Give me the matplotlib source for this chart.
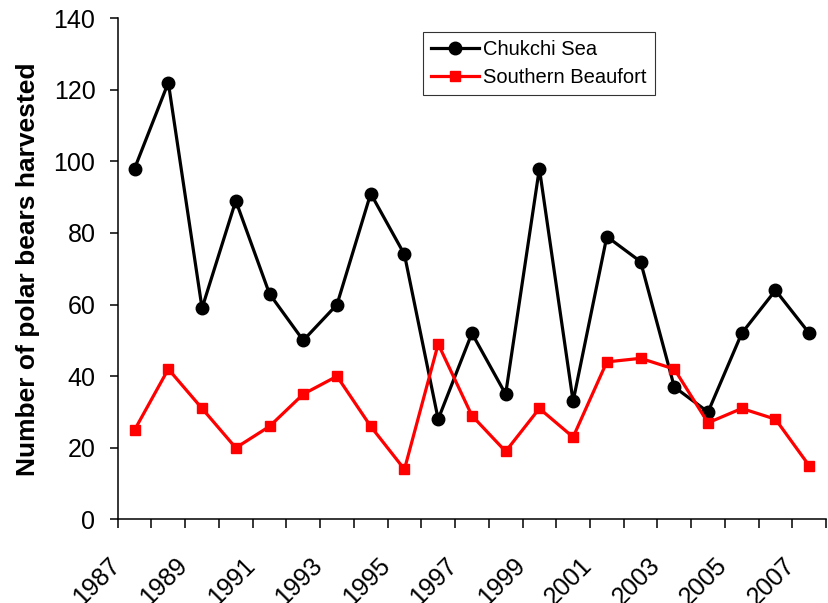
import numpy as np
import matplotlib.pyplot as plt
from matplotlib.ticker import FixedLocator, NullLocator
from matplotlib.transforms import ScaledTranslation

plt.rcParams['font.family'] = ['Liberation Sans', 'DejaVu Sans']

years = np.arange(1987, 2008)
chukchi = [98, 122, 59, 89, 63, 50, 60, 91, 74, 28, 52, 35, 98, 33, 79, 72, 37, 30, 52, 64, 52]
beaufort = [25, 42, 31, 20, 26, 35, 40, 26, 14, 49, 29, 19, 31, 23, 44, 45, 42, 27, 31, 28, 15]
label_years = years[::2]

fig = plt.figure(figsize=(8.29, 6.03), dpi=100)
ax = fig.add_axes([0.142, 0.1385, 0.8545, 0.8315])

ax.plot(years, chukchi, color='black', lw=2.3, marker='o', ms=9, label='Chukchi Sea', zorder=3)
ax.plot(years, beaufort, color='red', lw=2.3, marker='s', ms=7.5, label='Southern Beaufort', zorder=3)

ax.set_xlim(years[0] - 0.5, years[-1] + 0.5)
ax.set_ylim(0, 140)
ax.set_yticks(np.arange(0, 141, 20))

# tick marks between categories
edges = np.arange(years[0] - 0.5, years[-1] + 1.0, 1.0)
ax.xaxis.set_major_locator(FixedLocator(edges))
ax.xaxis.set_minor_locator(NullLocator())
ax.set_xticklabels([])
ax.tick_params(axis='x', direction='out', length=6.5, width=1.1)
ax.tick_params(axis='y', direction='out', length=6, width=1.1, pad=10, labelsize=18)

# rotated year labels every other year, hung under the left edge of each category
offset = ScaledTranslation(-10 / 100, -34 / 100, fig.dpi_scale_trans)
for yr in label_years:
    ax.text(yr - 0.5, 0, str(yr), transform=ax.get_xaxis_transform() + offset,
            rotation=45, ha='right', va='top', rotation_mode='anchor',
            fontsize=18, clip_on=False)

for side in ['top', 'right']:
    ax.spines[side].set_visible(False)
for side in ['left', 'bottom']:
    ax.spines[side].set_linewidth(1.1)

ax.set_ylabel('Number of polar bears harvested', fontsize=19, fontweight='bold', labelpad=10)

leg = ax.legend(loc='upper left', bbox_to_anchor=(0.431, 0.972), borderaxespad=0, fontsize=14.5,
                frameon=True, fancybox=False, edgecolor='black', handlelength=2.4,
                borderpad=0.4, labelspacing=0.45, handletextpad=0.2)
leg.get_frame().set_linewidth(0.8)

fig.savefig('out.png', dpi=100)
